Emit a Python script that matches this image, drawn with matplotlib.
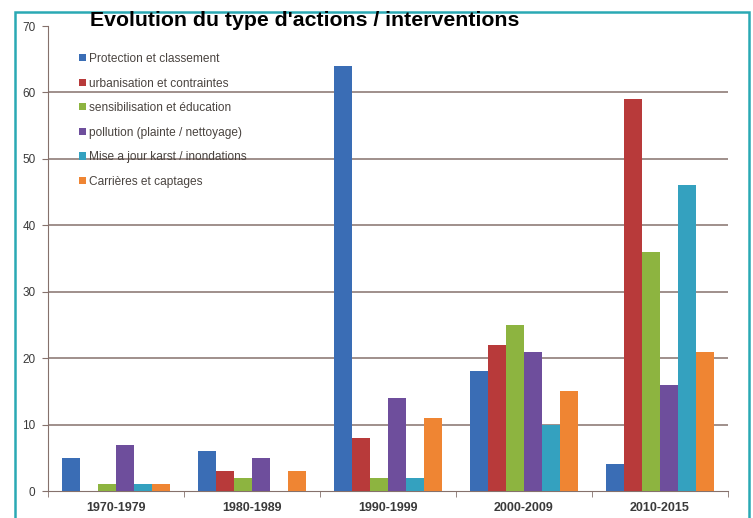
import numpy as np
import matplotlib
matplotlib.use("Agg")
import matplotlib.pyplot as plt
from matplotlib.patches import Rectangle

periods = ["1970-1979", "1980-1989", "1990-1999", "2000-2009", "2010-2015"]
series_names = ["Protection et classement", "urbanisation et contraintes",
                "sensibilisation et éducation", "pollution (plainte / nettoyage)",
                "Mise a jour karst / inondations", "Carrières et captages"]
protection = [5, 6, 64, 18, 4]
urbanisation = [0, 3, 8, 22, 59]
sensibilisation = [1, 2, 2, 25, 36]
pollution = [7, 5, 14, 21, 16]
karst = [1, 0, 2, 10, 46]
carrieres = [1, 3, 11, 15, 21]
yticks = [0, 10, 20, 30, 40, 50, 60, 70]

colors = ["#3a6db5", "#b83a3a", "#8db440", "#6e4e9c", "#34a1bf", "#ef8533"]

plt.rcParams['font.family'] = ['Liberation Sans', 'DejaVu Sans']

fig = plt.figure(figsize=(7.53, 5.18), dpi=100)
ax = fig.add_axes([48/753, 1 - 491/518, 680/753, 465/518])

all_series = [protection, urbanisation, sensibilisation, pollution, karst, carrieres]
x = np.arange(len(periods))
w = 0.8 / len(all_series)
for i, vals in enumerate(all_series):
    ax.bar(x - 0.4 + w * (i + 0.5), vals, width=w, color=colors[i],
           label=series_names[i], zorder=3)

ax.set_xlim(-0.5, len(periods) - 0.5)
ax.set_ylim(0, 70)
ax.set_yticks(yticks)
ax.set_yticklabels([str(t) for t in yticks], fontsize=8.5, color="#3a3a3a")
for t in yticks[1:-1]:
    ax.axhline(t, color="#85716c", lw=1.1, zorder=1)

ax.set_xticks(x)
ax.set_xticklabels(periods, fontsize=9, color="#3a3a3a", fontweight="bold")
ax.tick_params(axis="x", length=0, pad=8)
ax.set_xticks(np.arange(len(periods) + 1) - 0.5, minor=True)
ax.tick_params(axis="x", which="minor", length=4, color="#85716c", direction="out")
ax.tick_params(axis="y", length=4, color="#85716c", pad=5)

for s in ["top", "right"]:
    ax.spines[s].set_visible(False)
for s in ["left", "bottom"]:
    ax.spines[s].set_color("#85716c")

leg = ax.legend(loc="upper left", bbox_to_anchor=(0.03, 0.965), frameon=False,
                fontsize=8.6, handlelength=0.55, handleheight=0.55,
                handletextpad=0.3, labelspacing=1.05)
for txt in leg.get_texts():
    txt.set_color("#4a4440")

fig.text(90/753, 1 - 20/518, "Evolution du type d'actions / interventions",
         fontsize=15.3, fontweight="bold", va="center", ha="left")

fig.patches.append(Rectangle((15/753, -0.02), 734/753, 1.02 - 12/518,
                             transform=fig.transFigure, fill=False,
                             edgecolor="#2aa9b4", lw=1.8))

fig.savefig("out.png", dpi=100)
